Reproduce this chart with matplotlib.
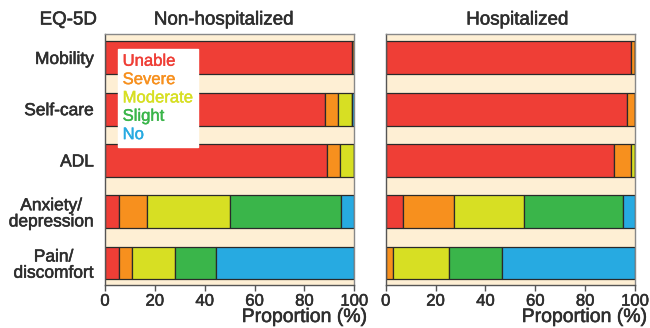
import numpy as np
import matplotlib.pyplot as plt
import matplotlib.patheffects as pe

plt.rcParams['font.family'] = ['Liberation Sans', 'DejaVu Sans']

# EQ-5D dimensions and response levels
dims = ["Mobility", "Self-care", "ADL", "Anxiety/\ndepression", "Pain/\ndiscomfort"]
levels = ["Unable", "Severe", "Moderate", "Slight", "No"]
colors = ["#EF3E36", "#F7901E", "#D7DF23", "#3AB54A", "#27AAE1"]

# proportions (%) per level, one row per dimension
non_hosp = [
    [98.9, 1.1, 0.0, 0.0, 0.0],
    [88.4, 5.2, 5.6, 0.0, 0.8],
    [88.9, 5.4, 5.7, 0.0, 0.0],
    [5.7, 11.0, 33.6, 44.2, 5.5],
    [5.7, 5.3, 17.1, 16.4, 55.5],
]
hosp = [
    [98.5, 1.5, 0.0, 0.0, 0.0],
    [96.7, 3.3, 0.0, 0.0, 0.0],
    [91.4, 6.9, 1.7, 0.0, 0.0],
    [7.1, 20.4, 28.0, 39.8, 4.7],
    [0.0, 3.1, 22.3, 21.4, 53.2],
]

txt = "#2e2e2e"


def heavy(c, w=0.4):
    # thicken regular glyphs a little, the reference uses a medium weight
    return [pe.withStroke(linewidth=w, foreground=c)]


fig = plt.figure(figsize=(6.5, 3.28), dpi=100)
ax1 = fig.add_axes([0.1615, 0.1302, 0.3835, 0.7661])
ax2 = fig.add_axes([0.5934, 0.1302, 0.3835, 0.7661])

for ax, data in [(ax1, non_hosp), (ax2, hosp)]:
    data = np.array(data)
    y = np.arange(len(dims))
    left = np.zeros(len(dims))
    for j in range(len(levels)):
        ax.barh(y, data[:, j], left=left, height=0.64, color=colors[j],
                edgecolor="#2a2a2a", linewidth=0.9)
        left += data[:, j]
    ax.set_facecolor("#FEEFD4")
    ax.set_xlim(0, 100)
    ax.set_ylim(4.435, -0.466)
    ax.set_xticks([0, 20, 40, 60, 80, 100])
    ax.tick_params(axis='x', length=4, width=1, color="#555555",
                   labelsize=12, labelcolor=txt, pad=2)
    ax.tick_params(axis='y', length=0, labelsize=12.5, labelcolor=txt, pad=8)
    for s in ax.spines.values():
        s.set_color("#888888")
        s.set_linewidth(1)
    ax.spines['bottom'].set_color("#555555")
    ax.spines['left'].set_color("#555555")
    for t in ax.get_xticklabels():
        t.set_path_effects(heavy(txt))

ax1.set_yticks(range(len(dims)))
ax1.set_yticklabels(dims, ha='right', multialignment='center', linespacing=1.1)
for t in ax1.get_yticklabels():
    t.set_path_effects(heavy(txt))
ax2.set_yticks(range(len(dims)))
ax2.set_yticklabels([])

leg = ax1.legend(levels, loc='upper left', bbox_to_anchor=(0.052, 0.94),
                 frameon=True, fancybox=False, handlelength=0, handletextpad=0,
                 fontsize=12, borderpad=0.28, labelspacing=0.2, borderaxespad=0)
leg.get_frame().set_facecolor("white")
leg.get_frame().set_edgecolor("white")
leg.get_frame().set_alpha(1)
for t, c in zip(leg.get_texts(), colors):
    t.set_color(c)
    t.set_path_effects(heavy(c, 0.3))
for h in leg.legend_handles:
    h.set_visible(False)

fig.text(97 / 650, 1 - 20 / 328, "EQ-5D", ha='right', va='center',
         fontsize=13.5, color=txt, path_effects=heavy(txt))
fig.text(223.5 / 650, 1 - 20 / 328, "Non-hospitalized", ha='center', va='center',
         fontsize=13.5, color=txt, path_effects=heavy(txt))
fig.text(517 / 650, 1 - 20 / 328, "Hospitalized", ha='center', va='center',
         fontsize=13.5, color=txt, path_effects=heavy(txt))
fig.text(241.7 / 650, 1 - 322 / 328, "Proportion (%)", ha='left', va='baseline',
         fontsize=14, color=txt, path_effects=heavy(txt))
fig.text(521.7 / 650, 1 - 322 / 328, "Proportion (%)", ha='left', va='baseline',
         fontsize=14, color=txt, path_effects=heavy(txt))

fig.savefig("out.png", dpi=100)
